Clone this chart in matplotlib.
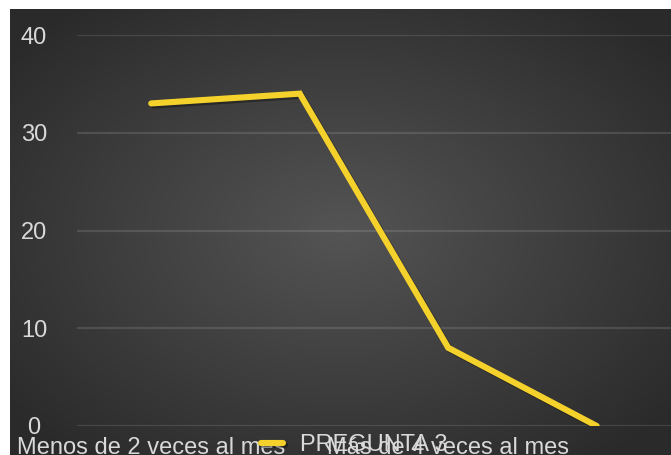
import numpy as np
import matplotlib.pyplot as plt
import matplotlib.patheffects as pe

categories = ['Menos de 2 veces al mes', 'De 2 a 4 veces al mes',
              'Más de 4 veces al mes', 'Nunca']
valores = [33, 34, 8, 0]
serie = 'PREGUNTA 3'
yticks = [0, 10, 20, 30, 40]

W, H = 671, 455
fig = plt.figure(figsize=(W / 100, H / 100), dpi=100)
fig.patch.set_facecolor('white')
plt.rcParams['font.family'] = ['Liberation Sans', 'DejaVu Sans']

# fondo oscuro con degradado radial
bg = fig.add_axes([10 / W, 0, (W - 10) / W, (H - 9) / H])
bg.axis('off')
gx, gy = np.meshgrid(np.linspace(-1, 1, 400), np.linspace(-1, 1, 300))
r = np.clip(np.sqrt(gx ** 2 + gy ** 2) / 1.3, 0, 1)
c = 0.33 - 0.165 * r
img = np.dstack([c, c, c])
bg.imshow(img, aspect='auto', extent=[0, 1, 0, 1], interpolation='bilinear')
bg.set_xlim(0, 1)
bg.set_ylim(0, 1)

ax = fig.add_axes([77 / W, 29 / H, (W - 77) / W, 391 / H])
ax.patch.set_alpha(0)
x = np.arange(len(categories))
ax.plot(x, valores, color='#F4D12B', lw=4.4, solid_capstyle='round',
        solid_joinstyle='miter', label=serie,
        path_effects=[pe.SimpleLineShadow(offset=(1.5, -1.5), shadow_color='black', alpha=0.35),
                      pe.Normal()])
ax.set_xlim(-0.5, len(categories) - 0.5)
ax.set_ylim(0, 40)
ax.set_yticks(yticks)
ax.set_yticklabels([str(t) for t in yticks], ha='center')
# como en el original, solo se ven las etiquetas alternas
ax.set_xticks(x[::2])
ax.set_xticklabels(categories[::2])
ax.tick_params(axis='y', length=0, pad=31, labelsize=17, labelcolor='#d9d9d9')
ax.tick_params(axis='x', length=0, pad=8, labelsize=17, labelcolor='#d9d9d9')
ax.grid(axis='y', color='white', alpha=0.12, lw=1.6)
ax.set_axisbelow(True)
for s in ax.spines.values():
    s.set_visible(False)

leg = ax.legend(loc='center left', bbox_to_anchor=(261 / W, 10 / H),
                bbox_transform=fig.transFigure, frameon=False, fontsize=17,
                handlelength=0.93, handletextpad=0.72, borderpad=0, borderaxespad=0)
for t in leg.get_texts():
    t.set_color('#d9d9d9')

fig.savefig('out.png', dpi=100)
